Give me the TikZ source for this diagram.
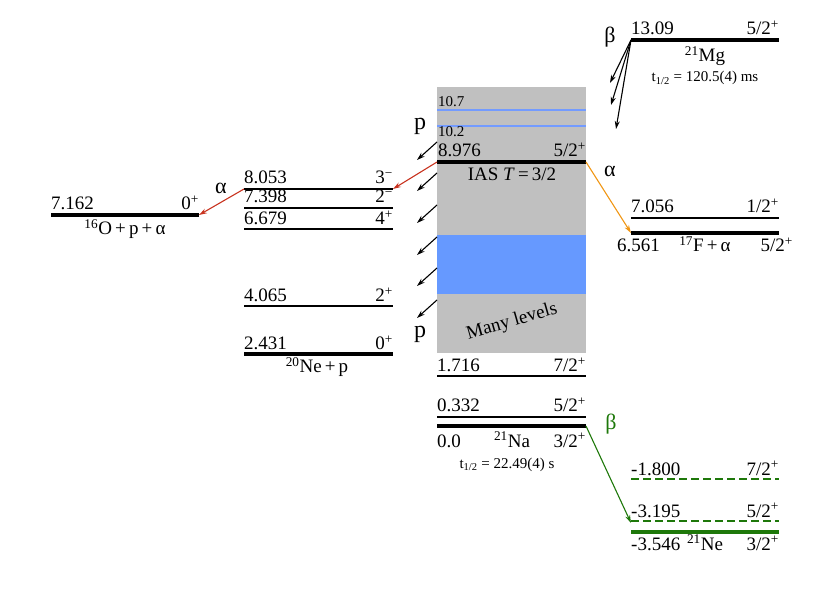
\documentclass[tikz,border=0pt]{standalone}
\usepackage{fontspec}
\setmainfont{Liberation Serif}
\usetikzlibrary{arrows.meta}
\definecolor{boxgray}{RGB}{192,192,192}
\definecolor{bandblue}{RGB}{102,153,255}
\definecolor{lineblue}{RGB}{115,155,255}
\definecolor{decgreen}{RGB}{30,120,10}
\definecolor{alphaorange}{RGB}{240,150,20}
\definecolor{alphared}{RGB}{200,50,30}
\begin{document}
\begin{tikzpicture}[x=1pt,y=-1pt,
  lab/.style={inner sep=0pt,font=\fontsize{19}{21}\selectfont},
  smalllab/.style={inner sep=0pt,font=\fontsize{15}{17}\selectfont},
  halflab/.style={inner sep=0pt,font=\fontsize{15}{17}\selectfont},
  declab/.style={inner sep=0pt,font=\fontsize{22}{24}\selectfont},
  plab/.style={inner sep=0pt,font=\fontsize{24}{26}\selectfont},
  thicklev/.style={line width=4.5pt},
  midlev/.style={line width=2.7pt},
  thinlev/.style={line width=1.8pt},
  arr/.style={line width=1.1pt,-{Stealth[length=8pt,width=5pt]}},
  parr/.style={arr,black},
]
\useasboundingbox (0,0) rectangle (830,601);

% ---- 21Na box
\fill[boxgray] (437,87) rectangle (586,353);
\fill[bandblue] (437,235) rectangle (586,294);
\draw[lineblue,line width=2.2pt] (437,110) -- (586,110);
\draw[lineblue,line width=2.2pt] (437,126) -- (586,126);
\node[smalllab,anchor=base west] (t107) at (438,107) {10.7};
\node[smalllab,anchor=base west] (t102) at (438,137) {10.2};

\coordinate (iasL) at (437,162);
\coordinate (iasR) at (586,162);
\draw[thicklev] (iasL) -- (iasR);
\node[lab,anchor=base west] (e8976) at (438,157) {8.976};
\node[lab,anchor=base east] (j8976) at (586,157) {5/2\textsuperscript{+}};
\node[lab,anchor=base] (ias) at (512,181) {IAS \textit{T}\,=\,3/2};
\node[lab,rotate=16] (many) at (512,322) {Many levels};

\draw[thinlev] (437,376) -- (586,376);
\node[lab,anchor=base west] (e1716) at (437,372) {1.716};
\node[lab,anchor=base east] (j1716) at (586,372) {7/2\textsuperscript{+}};
\draw[thinlev] (437,417) -- (586,417);
\node[lab,anchor=base west] (e0332) at (437,412) {0.332};
\node[lab,anchor=base east] (j0332) at (586,412) {5/2\textsuperscript{+}};
\coordinate (naL) at (437,426);
\coordinate (naR) at (586,426);
\draw[thicklev] (naL) -- (naR);
\node[lab,anchor=base west] (e00) at (437,447) {0.0};
\node[lab,anchor=base] (na) at (512,447) {\textsuperscript{21}Na};
\node[lab,anchor=base east] (j00) at (586,447) {3/2\textsuperscript{+}};
\node[halflab,anchor=base] (tna) at (507,468) {t\textsubscript{1/2} = 22.49(4) s};

% ---- proton arrows
\foreach \yy [count=\i] in {142,173,205,237,268,300}{
  \coordinate (ps\i) at (437,\yy);
  \coordinate (pe\i) at (417,\yy+18);
  \draw[parr] (ps\i) -- (pe\i);
}
\node[plab,anchor=base] (ptop) at (420,130) {p};
\node[plab,anchor=base] (pbot) at (420,338) {p};

% ---- 21Mg
\coordinate (mgL) at (631,40);
\coordinate (mgR) at (779,40);
\draw[thicklev] (mgL) -- (mgR);
\node[lab,anchor=base west] (e1309) at (631,35) {13.09};
\node[lab,anchor=base east] (j1309) at (779,35) {5/2\textsuperscript{+}};
\node[lab,anchor=base] (mg) at (705,62) {\textsuperscript{21}Mg};
\node[halflab,anchor=base] (tmg) at (705,82) {t\textsubscript{1/2} = 120.5(4) ms};
\node[declab,anchor=base] (btop) at (610,43) {β};
\coordinate (bt1) at (610,83);
\coordinate (bt2) at (611,105);
\coordinate (bt3) at (616,129);
\draw[arr] (mgL) -- (bt1);
\draw[arr] (mgL) -- (bt2);
\draw[arr] (mgL) -- (bt3);

% ---- 17F + alpha
\draw[thinlev] (631,218) -- (779,218);
\node[lab,anchor=base west] (e7056) at (631,213) {7.056};
\node[lab,anchor=base east] (j7056) at (779,213) {1/2\textsuperscript{+}};
\coordinate (fL) at (631,233);
\draw[thicklev] (fL) -- (779,233);
\node[lab,anchor=base west] (e6561) at (617,252) {6.561};
\node[lab,anchor=base] (f17) at (705,252) {\textsuperscript{17}F\,+\,α};
\node[lab,anchor=base east] (j6561) at (793,252) {5/2\textsuperscript{+}};
\draw[arr,alphaorange] (iasR) -- (fL);
\node[declab,anchor=base] (aright) at (610,177) {α};

% ---- 20Ne + p
\coordinate (neL) at (244,189);
\coordinate (neR) at (393,189);
\draw[midlev] (neL) -- (neR);
\node[lab,anchor=base west] (e8053) at (244,184) {8.053};
\node[lab,anchor=base east] (j8053) at (393,184) {3\textsuperscript{−}};
\draw[thinlev] (244,208) -- (393,208);
\node[lab,anchor=base west] (e7398) at (244,203) {7.398};
\node[lab,anchor=base east] (j7398) at (393,203) {2\textsuperscript{−}};
\draw[thinlev] (244,229) -- (393,229);
\node[lab,anchor=base west] (e6679) at (244,225) {6.679};
\node[lab,anchor=base east] (j6679) at (393,225) {4\textsuperscript{+}};
\draw[thinlev] (244,306) -- (393,306);
\node[lab,anchor=base west] (e4065) at (244,302) {4.065};
\node[lab,anchor=base east] (j4065) at (393,302) {2\textsuperscript{+}};
\draw[thicklev] (244,354) -- (393,354);
\node[lab,anchor=base west] (e2431) at (244,350) {2.431};
\node[lab,anchor=base east] (j2431) at (393,350) {0\textsuperscript{+}};
\node[lab,anchor=base] (ne20) at (317,373) {\textsuperscript{20}Ne\,+\,p};
\draw[arr,alphared] (iasL) -- (neR);

% ---- 16O + p + alpha
\coordinate (oR) at (199,215);
\draw[thicklev] (51,215) -- (oR);
\node[lab,anchor=base west] (e7162) at (51,210) {7.162};
\node[lab,anchor=base east] (j7162) at (199,210) {0\textsuperscript{+}};
\node[lab,anchor=base] (o16) at (125,235) {\textsuperscript{16}O\,+\,p\,+\,α};
\draw[arr,alphared] (neL) -- (oR);
\node[declab,anchor=base] (aleft) at (221,194) {α};

% ---- 21Ne
\draw[decgreen,thinlev,dash pattern=on 8pt off 4pt] (631,479) -- (779,479);
\node[lab,anchor=base west] (e1800) at (631,475) {-1.800};
\node[lab,anchor=base east] (j1800) at (779,475) {7/2\textsuperscript{+}};
\coordinate (n3195) at (631,521);
\draw[decgreen,thinlev,dash pattern=on 8pt off 4pt] (n3195) -- (779,521);
\node[lab,anchor=base west] (e3195) at (631,517) {-3.195};
\node[lab,anchor=base east] (j3195) at (779,517) {5/2\textsuperscript{+}};
\draw[decgreen,thicklev] (631,532) -- (779,532);
\node[lab,anchor=base west] (e3546) at (631,550) {-3.546};
\node[lab,anchor=base] (ne21) at (705,550) {\textsuperscript{21}Ne};
\node[lab,anchor=base east] (j3546) at (779,550) {3/2\textsuperscript{+}};
\draw[arr,decgreen] (naR) -- ([yshift=-2pt]n3195);
\node[declab,anchor=base,text=decgreen] (bgreen) at (611,429) {β};
\end{tikzpicture}
\end{document}
